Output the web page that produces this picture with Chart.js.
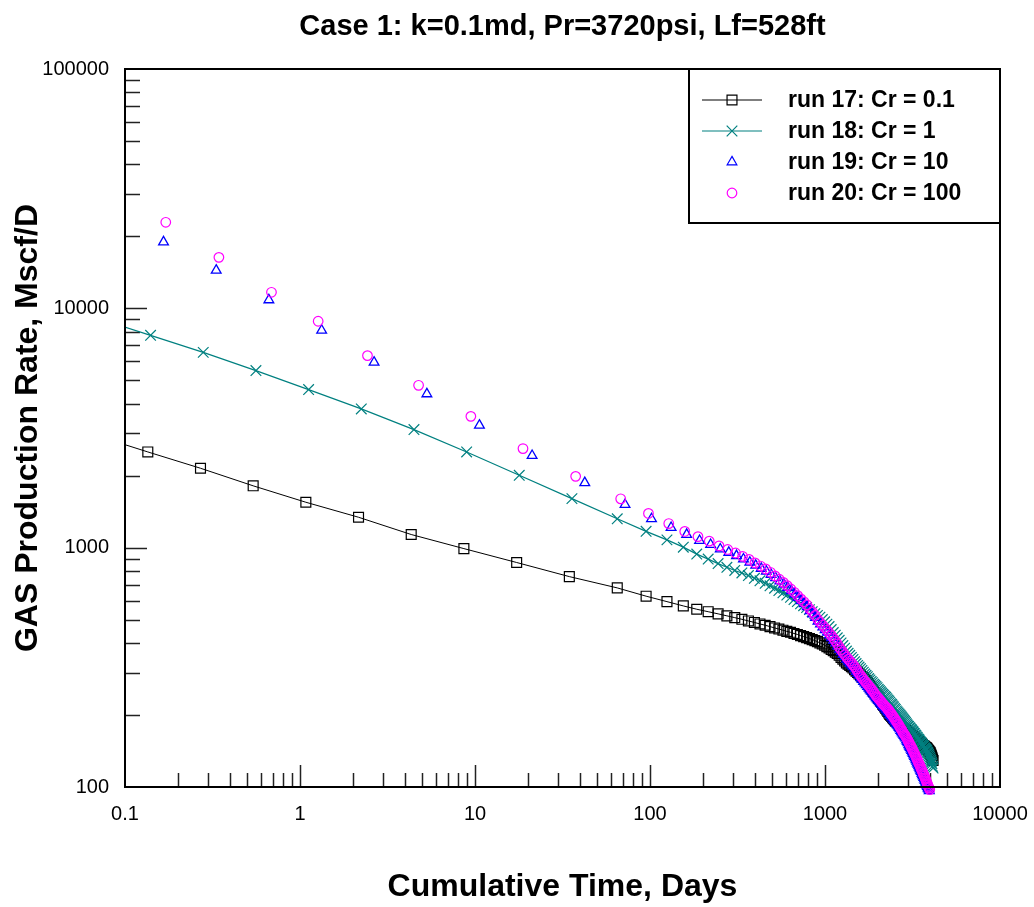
<!DOCTYPE html>
<html>
<head>
<meta charset="utf-8">
<script src="https://cdn.jsdelivr.net/npm/chart.js@4.4.1/dist/chart.umd.min.js"></script>
<style>
  html, body { margin: 0; padding: 0; background: #fff; }
  canvas { display: block; }
</style>
</head>
<body>
<canvas id="rateChart" width="1034" height="907"></canvas>
<script>
// axis marks
const xTickLabels = [0.1, 1, 10, 100, 1000, 10000];
const yTickLabels = [100, 1000, 10000, 100000];
const xDecades = [0.1, 1, 10, 100, 1000];
const yDecades = [100, 1000, 10000];
const minorSteps = [2, 3, 4, 5, 6, 7, 8, 9];

// run 17 / run 18: early time steps (doubling), then 30-day steps
const run17EarlyTime = [0.0675, 0.135, 0.27, 0.54, 1.08, 2.16, 4.32, 8.64, 17.3, 34.6];
const run17EarlyRate = [2951, 2512, 2147, 1813, 1548, 1340, 1135, 991, 867, 757];
const run18EarlyTime = [0.07, 0.14, 0.28, 0.56, 1.12, 2.24, 4.48, 8.96, 17.9, 35.8];
const run18EarlyRate = [9080, 7713, 6546, 5495, 4576, 3799, 3114, 2512, 2006, 1603];

const lateTime = [
  65, 95, 125, 155, 185, 215, 245, 275, 305, 335,
  365, 395, 425, 455, 485, 515, 545, 575, 605, 635,
  665, 695, 725, 755, 785, 815, 845, 875, 905, 935,
  965, 995, 1025, 1055, 1085, 1115, 1145, 1175, 1205, 1235,
  1265, 1295, 1325, 1355, 1385, 1415, 1445, 1475, 1505, 1535,
  1565, 1595, 1625, 1655, 1685, 1715, 1745, 1775, 1805, 1835,
  1865, 1895, 1925, 1955, 1985, 2015, 2045, 2075, 2105, 2135,
  2165, 2195, 2225, 2255, 2285, 2315, 2345, 2375, 2405, 2435,
  2465, 2495, 2525, 2555, 2585, 2615, 2645, 2675, 2705, 2735,
  2765, 2795, 2825, 2855, 2885, 2915, 2945, 2975, 3005, 3035,
  3065, 3095, 3125, 3155, 3185, 3215, 3245, 3275, 3305, 3335,
  3365, 3395, 3425, 3455, 3485, 3515, 3545, 3575, 3605, 3635,
  3665, 3695, 3725, 3755, 3785, 3815, 3845, 3875, 3905, 3935,
  3965, 3995, 4025, 4055, 4085, 4115, 4145
];

const run17Rate = [
  679, 627, 595, 571, 553, 540, 529, 519, 510, 502,
  494, 487, 480, 474, 468, 462, 457, 452, 447, 443,
  438, 434, 429, 425, 421, 417, 413, 409, 405, 400,
  396, 391, 386, 381, 376, 371, 366, 361, 355, 348,
  342, 336, 330, 326, 322, 318, 314, 309, 305, 301,
  297, 293, 289, 286, 282, 278, 274, 269, 264, 259,
  255, 251, 247, 244, 240, 236, 233, 229, 226, 222,
  219, 216, 213, 210, 207, 204, 201, 199, 197, 195,
  193, 191, 189, 188, 186, 185, 183, 182, 180, 179,
  177, 176, 175, 173, 172, 171, 170, 169, 168, 167,
  166, 165, 164, 163, 162, 161, 160, 159, 158, 157,
  156.5, 156, 155, 154, 153, 152, 151.5, 151, 150, 149,
  148.5, 148, 147, 146.5, 146, 145, 144, 143, 142, 141,
  140, 139, 137, 135, 133, 131, 129
];

const run18Rate = [
  1320, 1170, 1078, 1005, 940, 896, 858, 828, 803, 784,
  765, 745, 727, 710, 693, 677, 662, 648, 634, 620,
  607, 595, 583, 572, 562, 551, 540, 530, 521, 512,
  501, 490, 479, 468, 455, 442, 431, 420, 410, 400,
  390, 380, 370, 362, 355, 348, 341, 334, 328, 322,
  317, 312, 307, 302, 297, 293, 289, 284, 280, 276,
  273, 269, 266, 263, 260, 256, 253, 250, 247, 244,
  242, 239, 237, 234, 231, 229, 226, 223, 221, 218,
  216, 213, 211, 208, 206, 204, 202, 200, 198, 196,
  194, 192, 190, 188, 186, 184, 182, 180, 179, 177,
  176, 174, 173, 171, 170, 168, 167, 165, 164, 162,
  161, 159, 158, 157, 155, 154, 153, 151, 150, 149,
  148, 146, 145, 144, 143, 142, 140, 139, 137, 135,
  133, 131, 129, 127, 125, 122, 120
];

// run 19 (triangles)
const run19EarlyTime = [0.166, 0.332, 0.664, 1.33, 2.65, 5.31, 10.6, 21.2, 42.4];
const run19EarlyRate = [18930, 14420, 10840, 8090, 5950, 4389, 3246, 2425, 1867];
const run19Time = [
  72, 102, 132, 162, 192, 222, 252, 282, 312, 342,
  372, 402, 432, 462, 492, 522, 552, 582, 612, 642,
  672, 702, 732, 762, 792, 822, 852, 882, 912, 942,
  972, 1002, 1032, 1062, 1092, 1122, 1152, 1182, 1212, 1242,
  1272, 1302, 1332, 1362, 1392, 1422, 1452, 1482, 1512, 1542,
  1572, 1602, 1632, 1662, 1692, 1722, 1752, 1782, 1812, 1842,
  1872, 1902, 1932, 1962, 1992, 2022, 2052, 2082, 2112, 2142,
  2172, 2202, 2232, 2262, 2292, 2322, 2352, 2382, 2412, 2442,
  2472, 2502, 2532, 2562, 2592, 2622, 2652, 2682, 2712, 2742,
  2772, 2802, 2832, 2862, 2892, 2922, 2952, 2982, 3012, 3042,
  3072, 3102, 3132, 3162, 3192, 3222, 3252, 3282, 3312, 3342,
  3372, 3402, 3432, 3462, 3492, 3522, 3552, 3582, 3612, 3642,
  3672, 3702, 3732, 3762, 3792, 3822, 3852, 3882, 3912, 3942
];
const run19Rate = [
  1513, 1320, 1213, 1135, 1070, 1030, 986, 955, 925, 896,
  868, 843, 818, 796, 772, 748, 725, 703, 682, 660,
  639, 619, 600, 583, 566, 545, 528, 510, 493, 479,
  466, 454, 443, 431, 420, 409, 399, 388, 376, 367,
  358, 350, 342, 335, 329, 323, 318, 311, 304, 298,
  292, 286, 281, 276, 272, 267, 263, 259, 255, 251,
  247, 244, 240, 236, 233, 230, 227, 224, 221, 219,
  216, 214, 211, 209, 206, 204, 201, 199, 196, 194,
  191, 189, 187, 184, 182, 180, 177, 175, 172, 170,
  168, 166, 164, 162, 160, 157, 155, 153, 150, 148,
  146, 144, 142, 140, 138, 136, 134, 132, 130, 128,
  126, 124.5, 122.5, 121, 119, 117.5, 116, 114, 112.5, 111,
  109.5, 108, 106.5, 105, 103.5, 102, 100.5, 99, 98, 96.5
];

// run 20 (circles)
const run20EarlyTime = [0.171, 0.344, 0.687, 1.27, 2.43, 4.76, 9.47, 18.8, 37.6];
const run20EarlyRate = [22880, 16330, 11670, 8830, 6345, 4768, 3537, 2594, 1986];
const run20Time = [
  68, 98, 128, 158, 188, 218, 248, 278, 308, 338,
  368, 398, 428, 458, 488, 518, 548, 578, 608, 638,
  668, 698, 728, 758, 788, 818, 848, 878, 908, 938,
  968, 998, 1028, 1058, 1088, 1118, 1148, 1178, 1208, 1238,
  1268, 1298, 1328, 1358, 1388, 1418, 1448, 1478, 1508, 1538,
  1568, 1598, 1628, 1658, 1688, 1718, 1748, 1778, 1808, 1838,
  1868, 1898, 1928, 1958, 1988, 2018, 2048, 2078, 2108, 2138,
  2168, 2198, 2228, 2258, 2288, 2318, 2348, 2378, 2408, 2438,
  2468, 2498, 2528, 2558, 2588, 2618, 2648, 2678, 2708, 2738,
  2768, 2798, 2828, 2858, 2888, 2918, 2948, 2978, 3008, 3038,
  3068, 3098, 3128, 3158, 3188, 3218, 3248, 3278, 3308, 3338,
  3368, 3398, 3428, 3458, 3488, 3518, 3548, 3578, 3608, 3638,
  3668, 3698, 3728, 3758, 3788, 3818, 3848, 3878, 3908, 3938,
  3968
];
const run20Rate = [
  1600, 1390, 1261, 1169, 1112, 1065, 1017, 983, 950, 920,
  893, 864, 838, 815, 789, 762, 738, 716, 694, 672,
  651, 630, 611, 594, 577, 555, 538, 521, 502, 488,
  475, 463, 452, 440, 429, 418, 407, 396, 383, 374,
  365, 357, 349, 342, 336, 330, 324, 318, 311, 304,
  298, 292, 287, 282, 277, 273, 269, 265, 261, 257,
  253, 249, 245, 241, 238, 235, 232, 229, 226, 223,
  221, 218, 216, 214, 211, 209, 206, 203, 201, 198,
  196, 193, 191, 188, 186, 183, 181, 178, 176, 174,
  171, 169, 167, 165, 163, 161, 159, 156.5, 154.3, 152,
  150, 148, 146, 144, 142, 140, 138, 136, 134, 132,
  130, 128, 126, 124.5, 123, 121, 119, 117.5, 116, 114,
  112.5, 111, 109, 108, 106, 104.5, 103, 101.5, 100, 99,
  97.5
];

const FONT = "'Liberation Sans', Arial, sans-serif";
Chart.defaults.font.family = FONT;
Chart.defaults.color = '#000';

function toPoints(times, rates) {
  return times.map((t, i) => ({ x: t, y: rates[i] }));
}

// tick marks drawn inside the plot, plus the box around it
const frameAndTicks = {
  id: 'frameAndTicks',
  beforeDatasetsDraw(chart) {
    const { ctx, chartArea: a, scales: { x, y } } = chart;
    ctx.save();
    ctx.strokeStyle = '#222';
    ctx.lineWidth = 1.5;
    ctx.beginPath();
    xDecades.forEach(d => {
      minorSteps.forEach(m => {
        const px = Math.round(x.getPixelForValue(d * m)) + 0.5;
        ctx.moveTo(px, a.bottom);
        ctx.lineTo(px, a.bottom - 14);
      });
    });
    xTickLabels.slice(1, -1).forEach(v => {
      const px = Math.round(x.getPixelForValue(v)) + 0.5;
      ctx.moveTo(px, a.bottom);
      ctx.lineTo(px, a.bottom - 22);
    });
    yDecades.forEach(d => {
      minorSteps.forEach(m => {
        const py = Math.round(y.getPixelForValue(d * m)) + 0.5;
        ctx.moveTo(a.left, py);
        ctx.lineTo(a.left + 15, py);
      });
    });
    yTickLabels.slice(1, -1).forEach(v => {
      const py = Math.round(y.getPixelForValue(v)) + 0.5;
      ctx.moveTo(a.left, py);
      ctx.lineTo(a.left + 22, py);
    });
    ctx.stroke();
    ctx.restore();
  },
  afterDatasetsDraw(chart) {
    const { ctx, chartArea: a } = chart;
    ctx.save();
    ctx.strokeStyle = '#000';
    ctx.lineWidth = 2;
    ctx.strokeRect(a.left, a.top, a.right - a.left, a.bottom - a.top);
    ctx.restore();
  }
};

function drawMarker(ctx, style, radius, x, y) {
  const opts = { pointStyle: style, radius: radius, rotation: 0, borderWidth: 1 };
  if (Chart.helpers && Chart.helpers.drawPoint) {
    Chart.helpers.drawPoint(ctx, opts, x, y);
    return;
  }
  ctx.beginPath();
  ctx.arc(x, y, radius, 0, Math.PI * 2);
  ctx.stroke();
}

// boxed legend in the top right corner
const boxLegend = {
  id: 'boxLegend',
  afterDraw(chart) {
    const { ctx, chartArea: a } = chart;
    const left = 689, bottom = 223;
    ctx.save();
    ctx.fillStyle = '#fff';
    ctx.fillRect(left, a.top, a.right - left, bottom - a.top);
    ctx.strokeStyle = '#000';
    ctx.lineWidth = 2;
    ctx.strokeRect(left, a.top, a.right - left, bottom - a.top);

    chart.data.datasets.forEach((ds, i) => {
      const rowY = 100 + i * 31;
      ctx.strokeStyle = ds.borderColor;
      ctx.fillStyle = 'rgba(0,0,0,0)';
      ctx.lineWidth = 1.2;
      if (ds.showLine !== false) {
        ctx.beginPath();
        ctx.moveTo(702, rowY);
        ctx.lineTo(762, rowY);
        ctx.stroke();
      }
      drawMarker(ctx, ds.pointStyle, ds.pointRadius, 732, rowY);
      ctx.fillStyle = '#000';
      ctx.font = 'bold 23px ' + FONT;
      ctx.textAlign = 'left';
      ctx.textBaseline = 'middle';
      ctx.fillText(ds.label, 788, rowY + 1);
    });
    ctx.restore();
  }
};

const ctx = document.getElementById('rateChart').getContext('2d');

new Chart(ctx, {
  type: 'line',
  data: {
    datasets: [
      {
        label: 'run 17: Cr = 0.1',
        data: toPoints(run17EarlyTime.concat(lateTime), run17EarlyRate.concat(run17Rate)),
        borderColor: '#000000',
        borderWidth: 1,
        pointStyle: 'rect',
        pointRadius: 7,
        pointBorderWidth: 1.2,
        pointBorderColor: '#000000',
        pointBackgroundColor: 'rgba(0,0,0,0)',
        order: 3
      },
      {
        label: 'run 18: Cr = 1',
        data: toPoints(run18EarlyTime.concat(lateTime), run18EarlyRate.concat(run18Rate)),
        borderColor: '#008080',
        borderWidth: 1.2,
        pointStyle: 'crossRot',
        pointRadius: 7.5,
        pointBorderWidth: 1.2,
        pointBorderColor: '#008080',
        pointBackgroundColor: 'rgba(0,0,0,0)',
        order: 2
      },
      {
        label: 'run 19: Cr = 10',
        data: toPoints(run19EarlyTime.concat(run19Time), run19EarlyRate.concat(run19Rate)),
        borderColor: '#0000ff',
        showLine: false,
        pointStyle: 'triangle',
        pointRadius: 5.6,
        pointBorderWidth: 1.3,
        pointBorderColor: '#0000ff',
        pointBackgroundColor: 'rgba(0,0,0,0)',
        clip: false,
        order: 1
      },
      {
        label: 'run 20: Cr = 100',
        data: toPoints(run20EarlyTime.concat(run20Time), run20EarlyRate.concat(run20Rate)),
        borderColor: '#ff00ff',
        showLine: false,
        pointStyle: 'circle',
        pointRadius: 4.8,
        pointBorderWidth: 1.2,
        pointBorderColor: '#ff00ff',
        pointBackgroundColor: 'rgba(0,0,0,0)',
        clip: false,
        order: 0
      }
    ]
  },
  options: {
    responsive: false,
    animation: false,
    events: [],
    layout: { padding: { left: 0, right: 34, top: 0, bottom: 0 } },
    plugins: {
      legend: { display: false },
      tooltip: { enabled: false },
      title: {
        display: true,
        fullSize: false,
        text: 'Case 1: k=0.1md, Pr=3720psi, Lf=528ft',
        color: '#000',
        font: { size: 29, weight: 'bold' },
        padding: { top: 10, bottom: 24.2 }
      }
    },
    scales: {
      x: {
        type: 'logarithmic',
        min: 0.1,
        max: 10000,
        afterBuildTicks: s => { s.ticks = xTickLabels.map(v => ({ value: v })); },
        afterFit: s => { s.height = 120; s.paddingLeft = 0; s.paddingRight = 0; },
        grid: { display: false, drawTicks: false },
        border: { display: false },
        ticks: {
          padding: 15,
          autoSkip: false,
          maxRotation: 0,
          color: '#000',
          font: { size: 20 },
          callback: v => String(v)
        },
        title: {
          display: true,
          text: 'Cumulative Time, Days',
          color: '#000',
          font: { size: 32, weight: 'bold' },
          padding: { top: 0, bottom: 1 }
        }
      },
      y: {
        type: 'logarithmic',
        min: 100,
        max: 100000,
        afterBuildTicks: s => { s.ticks = yTickLabels.map(v => ({ value: v })); },
        afterFit: s => { s.width = 125; s.paddingTop = 0; s.paddingBottom = 0; },
        grid: { display: false, drawTicks: false },
        border: { display: false },
        ticks: {
          padding: 16,
          autoSkip: false,
          color: '#000',
          font: { size: 20 },
          callback: v => String(v)
        },
        title: {
          display: true,
          text: 'GAS Production Rate, Mscf/D',
          color: '#000',
          font: { size: 32, weight: 'bold' },
          padding: { top: 9, bottom: 0 }
        }
      }
    }
  },
  plugins: [frameAndTicks, boxLegend]
});
</script>
</body>
</html>
